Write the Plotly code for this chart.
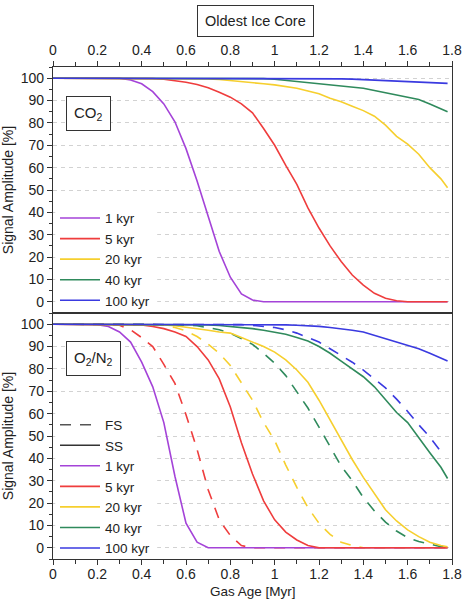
import plotly.graph_objects as go

GAS_AGE = [0, 0.05, 0.1, 0.15, 0.2, 0.25, 0.3, 0.35, 0.4, 0.45, 0.5, 0.55, 0.6, 0.65, 0.7, 0.75,
           0.8, 0.85, 0.9, 0.95, 1.0, 1.05, 1.1, 1.15, 1.2, 1.25, 1.3, 1.35, 1.4, 1.45, 1.5, 1.55,
           1.6, 1.65, 1.7, 1.75, 1.78]

SERIES = ["1 kyr", "5 kyr", "20 kyr", "40 kyr", "100 kyr"]
COLORS = ["#a443d8", "#ef3d3d", "#f6cf2e", "#2f8a5c", "#3a3ae0"]

# CO2 panel
CO2_1 = [100, 100, 100, 100, 100, 100, 100, 99.2, 97.5, 94, 88.5, 80.5, 68.5, 54, 38, 22.5,
         11, 3.5, 0.8, 0, 0, 0, 0, 0, 0, 0, 0, 0, 0, 0, 0, 0, 0, 0, 0, 0, 0]
CO2_5 = [100, 100, 100, 100, 100, 100, 100, 100, 100, 99.8, 99.5, 99, 98.2, 97.2, 95.7, 93.7,
         91.5, 88.5, 84.5, 77.5, 70, 61, 52.5, 42, 33, 25, 18, 12, 7.5, 3.8, 1.6, 0.5,
         0, 0, 0, 0, 0]
CO2_20 = [100, 100, 100, 100, 100, 100, 100, 100, 100, 100, 100, 100, 100, 99.9, 99.7, 99.4,
          99, 98.5, 98, 97.5, 97, 96.3, 95.5, 94.3, 93, 91, 89.5, 87.5, 85.5, 83, 79, 74,
          70.5, 66, 60, 55, 51]
CO2_40 = [100, 100, 100, 100, 100, 100, 100, 100, 100, 100, 100, 100, 100, 100, 100, 100,
          100, 100, 100, 99.8, 99.5, 99, 98.5, 98, 97.5, 97, 96.5, 96, 95.5, 94.5, 93.5, 92.5,
          91.5, 90.5, 88.5, 86.5, 85]
CO2_100 = [100, 100, 100, 100, 100, 100, 100, 100, 100, 100, 100, 100, 100, 100, 100, 100,
           100, 100, 100, 100, 100, 100, 100, 100, 100, 99.9, 99.7, 99.6, 99.4, 99.2, 99, 98.8,
           98.6, 98.4, 98.2, 97.9, 97.7]

# O2/N2 panel, SS (solid)
SS_1 = [100, 100, 100, 100, 99.8, 99, 96.5, 92, 83, 72, 56, 32, 11, 2.5, 0, 0,
        0, 0, 0, 0, 0, 0, 0, 0, 0, 0, 0, 0, 0, 0, 0, 0, 0, 0, 0, 0, 0]
SS_5 = [100, 100, 100, 100, 100, 100, 100, 100, 99.7, 99, 98, 96.5, 94.5, 90, 84, 75.5,
        63, 47, 33, 21, 12.5, 7, 3.5, 1, 0, 0, 0, 0, 0, 0, 0, 0, 0, 0, 0, 0, 0]
SS_20 = [100, 100, 100, 100, 100, 100, 100, 100, 100, 100, 99.7, 99.3, 98.7, 98, 97.3, 96.5,
         96, 94, 92, 90, 87.5, 84, 79.5, 74, 66, 57, 48.5, 39.5, 31.5, 24, 17, 12,
         8, 5, 2.5, 1, 0.5]
SS_40 = [100, 100, 100, 100, 100, 100, 100, 100, 100, 100, 100, 100, 100, 99.9, 99.7, 99.4,
         99, 98.5, 98, 97.3, 96.5, 95.5, 94, 92.5, 90, 87, 83.5, 80, 76.5, 72, 66.5, 60.5,
         56, 49, 42.5, 36, 31]
SS_100 = [100, 100, 100, 100, 100, 100, 100, 100, 100, 100, 100, 100, 100, 100, 100, 100,
          100, 100, 100, 99.9, 99.8, 99.7, 99.5, 99.3, 99, 98.5, 98, 97.3, 96.5, 95, 93.5, 92,
          90.5, 89, 87, 85, 83.5]

# O2/N2 panel, FS (dashed)
FS_5 = [100, 100, 100, 100, 100, 100, 99.5, 97.5, 94, 90, 82, 73.5, 59.5, 44, 26, 12.5,
        5.5, 1, 0, 0, 0, 0, 0, 0, 0, 0, 0, 0, 0, 0, 0, 0, 0, 0, 0, 0, 0]
FS_20 = [100, 100, 100, 100, 100, 100, 100, 100, 100, 99.8, 99.5, 98.5, 97, 94.5, 91, 87,
         81.5, 74, 66, 56, 48, 37, 27, 18, 11, 6, 2.5, 1, 0, 0, 0, 0, 0, 0, 0, 0, 0]
FS_40 = [100, 100, 100, 100, 100, 100, 100, 100, 100, 100, 100, 99.9, 99.7, 99.3, 98.5, 97.5,
         96, 93.5, 91, 87, 82.5, 77, 70, 62.5, 54, 45.5, 36.5, 30, 22.5, 16.5, 11.5, 7.5,
         4.5, 2.8, 1.5, 0.5, 0.3]
FS_100 = [100, 100, 100, 100, 100, 100, 100, 100, 100, 100, 100, 100, 100, 100, 100, 100,
          100, 99.8, 99.5, 99, 98.5, 97.5, 96, 94, 92, 89, 86, 83, 79.5, 75.5, 71.5, 66.5,
          61, 55, 49.5, 43, None]

Y_TICKS = [0, 10, 20, 30, 40, 50, 60, 70, 80, 90, 100]
X_TICKS = [0, 0.2, 0.4, 0.6, 0.8, 1, 1.2, 1.4, 1.6, 1.8]

FONT = "Arial, Liberation Sans, sans-serif"
TXT = "#222222"
LW = 1.6
DASH = "11px,9px"

fig = go.Figure()

co2 = [CO2_1, CO2_5, CO2_20, CO2_40, CO2_100]
for name, col, ys in zip(SERIES, COLORS, co2):
    fig.add_trace(go.Scatter(x=GAS_AGE, y=ys, mode="lines", name=name,
                             line=dict(color=col, width=LW), xaxis="x2", yaxis="y2",
                             legend="legend"))

# bottom panel: FS/SS legend keys
fig.add_trace(go.Scatter(x=[None], y=[None], mode="lines", name="FS",
                         line=dict(color="#555555", width=LW, dash=DASH), legend="legend2"))
fig.add_trace(go.Scatter(x=[None], y=[None], mode="lines", name="SS",
                         line=dict(color="#333333", width=LW), legend="legend2"))

fs = [None, FS_5, FS_20, FS_40, FS_100]
for col, ys in zip(COLORS, fs):
    if ys is None:
        continue
    fig.add_trace(go.Scatter(x=GAS_AGE, y=ys, mode="lines", showlegend=False,
                             line=dict(color=col, width=LW, dash=DASH), xaxis="x", yaxis="y"))

ss = [SS_1, SS_5, SS_20, SS_40, SS_100]
for name, col, ys in zip(SERIES, COLORS, ss):
    fig.add_trace(go.Scatter(x=GAS_AGE, y=ys, mode="lines", name=name,
                             line=dict(color=col, width=LW), xaxis="x", yaxis="y",
                             legend="legend2"))

axis_common = dict(showline=True, linecolor="#333333", linewidth=1.2, mirror=True,
                   ticks="outside", ticklen=5, tickcolor="#333333",
                   tickfont=dict(family=FONT, size=14, color=TXT), zeroline=False,
                   automargin=False)

yaxis_common = dict(axis_common, range=[-5, 105], tickvals=Y_TICKS,
                    showgrid=True, gridcolor="#d2d2d2", griddash="4px,4px", gridwidth=1,
                    minor=dict(dtick=5, tick0=0, ticks="outside", ticklen=3, tickcolor="#333333",
                               showgrid=False),
                    title=dict(text="Signal Amplitude [%]", font=dict(family=FONT, size=14, color=TXT),
                               standoff=8))

xaxis_common = dict(axis_common, range=[0, 1.8], tickvals=X_TICKS, showgrid=False,
                    minor=dict(dtick=0.1, tick0=0, ticks="outside", ticklen=4, tickcolor="#333333"))

# white patches hiding the dashed grid behind the legends (drawn between grid and traces)
legend_patches = [
    dict(type="rect", xref="x2", yref="y2", x0=0.01, x1=0.47, y0=-3, y1=43,
         fillcolor="white", line_width=0, layer="between"),
    dict(type="rect", xref="x", yref="y", x0=0.01, x1=0.47, y0=-3, y1=61,
         fillcolor="white", line_width=0, layer="between"),
]

ann_font = dict(family=FONT, size=15, color=TXT)

fig.update_layout(
    width=465, height=599,
    margin=dict(l=53, r=13, t=67, b=40, autoexpand=False),
    paper_bgcolor="white", plot_bgcolor="white",
    font=dict(family=FONT, size=14, color=TXT),
    xaxis=dict(xaxis_common, anchor="y", domain=[0, 1], ticklabelstandoff=-3),
    yaxis=dict(yaxis_common, anchor="x", domain=[0, 0.5]),
    xaxis2=dict(xaxis_common, anchor="y2", side="top", domain=[0, 1]),
    yaxis2=dict(yaxis_common, anchor="x2", domain=[0.5, 1]),
    legend=dict(x=0.005, y=0.724, xanchor="left", yanchor="top", bgcolor="rgba(0,0,0,0)",
                font=dict(family=FONT, size=13.5, color=TXT), tracegroupgap=0,
                itemwidth=40),
    legend2=dict(x=0.005, y=0.304, xanchor="left", yanchor="top", bgcolor="rgba(0,0,0,0)",
                 font=dict(family=FONT, size=13.5, color=TXT), tracegroupgap=0,
                 itemwidth=40),
    shapes=legend_patches,
    annotations=[
        dict(text="CO<sub>2</sub>", xref="paper", yref="paper", x=(88.5 - 53) / 399,
             y=(559 - 113.5) / 492, xanchor="center", yanchor="middle", showarrow=False,
             bordercolor="#333333", borderwidth=1, borderpad=7, bgcolor="white", font=ann_font),
        dict(text="O<sub>2</sub>/N<sub>2</sub>", xref="paper", yref="paper", x=(93 - 53) / 399,
             y=(559 - 358) / 492, xanchor="center", yanchor="middle", showarrow=False,
             bordercolor="#333333", borderwidth=1, borderpad=7, bgcolor="white", font=ann_font),
        dict(text="Oldest Ice Core", xref="paper", yref="paper", x=(255.5 - 53) / 399,
             y=(559 - 20.5) / 492, xanchor="center", yanchor="middle", showarrow=False,
             bordercolor="#333333", borderwidth=1, borderpad=7, bgcolor="white",
             font=dict(family=FONT, size=14.5, color=TXT)),
        dict(text="Gas Age [Myr]", xref="paper", yref="paper", x=0.5,
             y=(559 - 591) / 492, xanchor="center", yanchor="middle", showarrow=False,
             font=dict(family=FONT, size=13.5, color=TXT)),
    ],
)

fig.write_html("out.html")
